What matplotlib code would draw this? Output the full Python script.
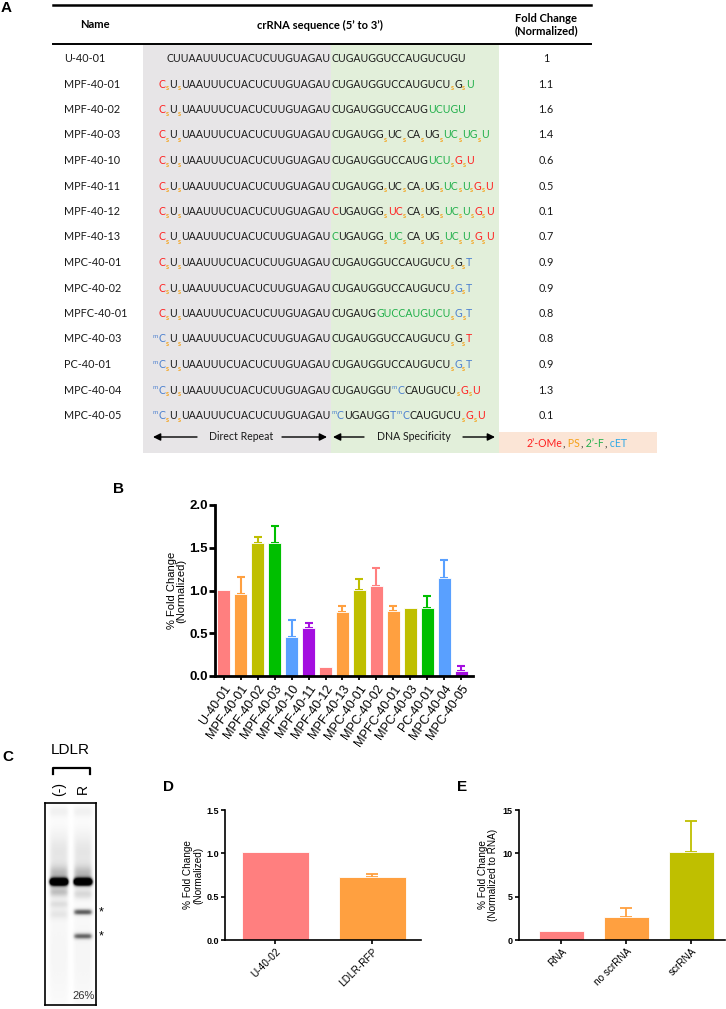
import matplotlib
matplotlib.use("Agg")
import matplotlib.pyplot as plt
import numpy as np
from matplotlib.patches import Rectangle

W, H = 726, 1009

# ---------------- panel A: modified crRNA table ----------------
names = ['U-40-01', 'MPF-40-01', 'MPF-40-02', 'MPF-40-03', 'MPF-40-10',
         'MPF-40-11', 'MPF-40-12', 'MPF-40-13', 'MPC-40-01', 'MPC-40-02',
         'MPFC-40-01', 'MPC-40-03', 'PC-40-01', 'MPC-40-04', 'MPC-40-05']
# markup: [r:..] colour run, _ = PS linkage (orange subscript s), ^ = 5-methyl (blue superscript m)
# | marks the direct-repeat / spacer junction
seqs = [
    'CUUAAUUUCUACUCUUGUAGAU|CUGAUGGUCCAUGUCUGU',
    '[r:C]_U_UAAUUUCUACUCUUGUAGAU|CUGAUGGUCCAUGUCU_G_[g:U]',
    '[r:C]_U_UAAUUUCUACUCUUGUAGAU|CUGAUGGUCCAUG[g:UCUGU]',
    '[r:C]_U_UAAUUUCUACUCUUGUAGAU|CUGAUGG_UC_CA_UG_[g:UC]_[g:UG]_[g:U]',
    '[r:C]_U_UAAUUUCUACUCUUGUAGAU|CUGAUGGUCCAUG[g:UCU]_[r:G]_[r:U]',
    '[r:C]_U_UAAUUUCUACUCUUGUAGAU|CUGAUGG_UC_CA_UG_[g:UC]_[g:U]_[r:G]_[r:U]',
    '[r:C]_U_UAAUUUCUACUCUUGUAGAU|[r:C]UGAUGG_[r:UC]_CA_UG_[g:UC]_[g:U]_[r:G]_[r:U]',
    '[r:C]_U_UAAUUUCUACUCUUGUAGAU|[g:C]UGAUGG_[g:UC]_CA_UG_[g:UC]_[g:U]_[r:G]_[r:U]',
    '[r:C]_U_UAAUUUCUACUCUUGUAGAU|CUGAUGGUCCAUGUCU_G_[b:T]',
    '[r:C]_U_UAAUUUCUACUCUUGUAGAU|CUGAUGGUCCAUGUCU_[b:G]_[b:T]',
    '[r:C]_U_UAAUUUCUACUCUUGUAGAU|CUGAUG[g:GUCCAUGUCU]_[b:G]_[b:T]',
    '^[b:C]_U_UAAUUUCUACUCUUGUAGAU|CUGAUGGUCCAUGUCU_G_[r:T]',
    '^[b:C]_U_UAAUUUCUACUCUUGUAGAU|CUGAUGGUCCAUGUCU_[b:G]_[b:T]',
    '^[b:C]_U_UAAUUUCUACUCUUGUAGAU|CUGAUGGU^[b:C]CAUGUCU_[r:G]_[r:U]',
    '^[b:C]_U_UAAUUUCUACUCUUGUAGAU|^[b:C]UGAUGG[b:T]^[b:C]CAUGUCU_[r:G]_[r:U]',
]
fold_change = ['1', '1.1', '1.6', '1.4', '0.6', '0.5', '0.1', '0.7',
               '0.9', '0.9', '0.8', '0.8', '0.9', '1.3', '0.1']
mod_legend = [('2’-OMe', 'r'), (',', 'k'), (' PS', 'o'), (',', 'k'),
              (' 2’-F', 'g'), (',', 'k'), (' cET', 'c')]

# ---------------- panel B ----------------
b_labels = names
b_vals = [1.01, 0.96, 1.56, 1.56, 0.46, 0.56, 0.10, 0.75,
          1.01, 1.05, 0.76, 0.80, 0.80, 1.15, 0.06]
b_errs = [0.0, 0.20, 0.06, 0.20, 0.20, 0.06, 0.0, 0.07,
          0.13, 0.21, 0.06, 0.0, 0.13, 0.21, 0.06]

PINK, ORANGE, OLIVE, GREEN, BLUE, PURPLE = ('#ff7f7f', '#ffa040', '#bfbf00',
                                            '#00bf00', '#59a0ff', '#a40fe0')
b_colors = [PINK, ORANGE, OLIVE, GREEN, BLUE, PURPLE, PINK, ORANGE,
            OLIVE, PINK, ORANGE, OLIVE, GREEN, BLUE, PURPLE]

# ---------------- panel C: gel ----------------
gel_lanes = ['(-)', 'R']
lane_x = [0.27, 0.75]
# band: lane, position (fraction from top), intensity, sigma
band_lane = [0, 0, 0, 0, 0, 0, 0, 0, 1, 1, 1, 1, 1, 1, 1, 1]
band_pos = [0.04, 0.24, 0.35, 0.39, 0.44, 0.50, 0.55, 0.75,
            0.04, 0.24, 0.35, 0.39, 0.45, 0.54, 0.66, 0.75]
band_int = [0.10, 0.16, 0.28, 1.60, 0.30, 0.16, 0.12, 0.07,
            0.10, 0.16, 0.28, 1.60, 0.20, 0.60, 0.55, 0.07]
band_sig = [0.02, 0.08, 0.03, 0.013, 0.02, 0.015, 0.02, 0.2,
            0.02, 0.08, 0.03, 0.013, 0.02, 0.011, 0.011, 0.2]

# ---------------- panel D ----------------
d_labels = ['U-40-02', 'LDLR-RFP']
d_vals = [1.01, 0.73]
d_errs = [0.0, 0.03]
d_colors = [PINK, ORANGE]

# ---------------- panel E ----------------
e_labels = ['RNA', 'no scrRNA', 'scrRNA']
e_vals = [1.0, 2.7, 10.2]
e_errs = [0.0, 1.0, 3.5]
e_colors = [PINK, ORANGE, OLIVE]

TXT = {'k': '#1a1a1a', 'r': '#ff1f1f', 'o': '#f5a21a', 'g': '#22b04b',
       'b': '#4a7fcf', 'c': '#2fa8e6'}
SEQ_FONT = 'Lato'
GP_FONT = 'Liberation Sans'

fig = plt.figure(figsize=(W / 100, H / 100), dpi=100)
renderer = fig.canvas.get_renderer()

bg = fig.add_axes([0, 0, 1, 1])
bg.set_xlim(0, W)
bg.set_ylim(H, 0)
bg.axis('off')
bg.set_zorder(-1)


def parse(seq):
    parts = []
    i = 0
    while i < len(seq):
        c = seq[i]
        if c == '_':
            parts.append(('s', 'o', 'sub'))
            i += 1
        elif c == '^':
            parts.append(('m', 'b', 'sup'))
            i += 1
        elif c == '[':
            j = seq.index(']', i)
            col, txt = seq[i + 1:j].split(':')
            parts.append((txt, col, 'n'))
            i = j + 1
        else:
            j = i
            while j < len(seq) and seq[j] not in '_^[':
                j += 1
            parts.append((seq[i:j], 'k', 'n'))
            i = j
    return parts


def rich(x, y, parts, size, draw=True):
    for txt, col, kind in parts:
        if kind == 'n':
            kw = dict(fontsize=size)
            yy = y
        elif kind == 'sub':
            kw = dict(fontsize=size * 0.66, fontweight='bold')
            yy = y + 3
        else:
            kw = dict(fontsize=size * 0.6)
            yy = y - 4.5
        t = bg.text(x, yy, txt, color=TXT[col], family=SEQ_FONT, va='baseline',
                    ha='left', **kw)
        w = t.get_window_extent(renderer).width
        if not draw:
            t.remove()
        x += w + 0.4
    return x


# fit sequence font so the repeat body spans the same width as the reference
probe = bg.text(0, 0, 'UAAUUUCUACUCUUGUAGAU', fontsize=8, family=SEQ_FONT)
fs = 8 * 148 / probe.get_window_extent(renderer).width
probe.remove()

# table shading
bg.add_patch(Rectangle((143, 44), 188, 409, color='#e7e5e7', lw=0))
bg.add_patch(Rectangle((331, 44), 168, 409, color='#e2efda', lw=0))
bg.add_patch(Rectangle((499, 432), 158, 21, color='#fbe5d6', lw=0))
bg.plot([53, 591], [4.5, 4.5], color='k', lw=1.8)
bg.plot([53, 591], [44, 44], color='k', lw=1.4)

bg.text(95, 25, 'Name', fontsize=fs * 1.05, fontweight='bold', family=SEQ_FONT,
        ha='center', va='center')
bg.text(320, 25, 'crRNA sequence (5’ to 3’)', fontsize=fs * 1.05,
        fontweight='bold', family=SEQ_FONT, ha='center', va='center')
bg.text(546, 25, 'Fold Change\n(Normalized)', fontsize=fs * 1.05,
        fontweight='bold', family=SEQ_FONT, ha='center', va='center',
        linespacing=1.15)

for i, (nm, sq, fc) in enumerate(zip(names, seqs, fold_change)):
    yb = 58 + 25.5 * i + 4
    bg.text(64, yb, nm, fontsize=fs * 1.03, family=SEQ_FONT, color=TXT['k'],
            va='baseline')
    left, right = sq.split('|')
    lp = parse(left)
    wl = rich(0, yb, lp, fs, draw=False)
    rich(331 - wl, yb, lp, fs)
    rich(331, yb, parse(right), fs)
    bg.text(546, yb, fc, fontsize=fs * 1.03, family=SEQ_FONT, color=TXT['k'],
            va='baseline', ha='center')

# repeat / spacer arrows
ya = 437
arr = dict(arrowstyle='-|>', color='k', lw=1.0, mutation_scale=11, shrinkA=0, shrinkB=0)
bg.annotate('', xy=(153, ya), xytext=(197, ya), arrowprops=arr)
bg.annotate('', xy=(327, ya), xytext=(282, ya), arrowprops=arr)
bg.text(241, ya, 'Direct Repeat', fontsize=fs, family=SEQ_FONT, ha='center',
        va='center', color=TXT['k'])
bg.annotate('', xy=(333, ya), xytext=(364, ya), arrowprops=arr)
bg.annotate('', xy=(495, ya), xytext=(463, ya), arrowprops=arr)
bg.text(414, ya, 'DNA Specificity', fontsize=fs, family=SEQ_FONT, ha='center',
        va='center', color=TXT['k'])
leg = [(t, c, 'n') for t, c in mod_legend]
lw_ = rich(0, 447, leg, fs, draw=False)
rich(577 - lw_ / 2, 447, leg, fs)

# panel letters
for lab, x, y in [('A', 6, 8), ('B', 119, 489), ('C', 8, 757), ('D', 168, 787),
                  ('E', 462, 787)]:
    bg.text(x, y, lab, fontsize=11, fontweight='bold', family=GP_FONT,
            ha='center', va='center')


def axpx(l, t, r, b):
    return fig.add_axes([l / W, 1 - b / H, (r - l) / W, (b - t) / H])


def prism_bars(ax, vals, errs, colors, width, lw, cap):
    x = np.arange(len(vals))
    ax.bar(x, vals, width=width, color=colors, edgecolor='white', linewidth=0.6,
           zorder=2)
    for xi, v, e, c in zip(x, vals, errs, colors):
        if e > 0:
            ax.errorbar(xi, v, yerr=[[0], [e]], color=c, capsize=cap,
                        elinewidth=lw, capthick=lw, zorder=1)
    ax.set_xticks(x)
    ax.spines[['top', 'right']].set_visible(False)
    return x


# ---------------- B ----------------
axb = axpx(215, 505, 473, 676)
prism_bars(axb, b_vals, b_errs, b_colors, 0.78, 1.5, 3)
axb.set_xlim(-0.52, 14.7)
axb.set_ylim(0, 2.0)
axb.set_yticks([0, 0.5, 1.0, 1.5, 2.0])
axb.set_yticklabels(['0.0', '0.5', '1.0', '1.5', '2.0'], fontsize=9.5,
                    fontweight='bold', family=GP_FONT)
axb.set_xticklabels(b_labels, fontsize=9, family=GP_FONT, rotation=55,
                    ha='right', rotation_mode='anchor')
for s in ['left', 'bottom']:
    axb.spines[s].set_linewidth(2)
axb.tick_params(axis='y', width=2, length=4, pad=1)
axb.tick_params(axis='x', width=1.3, length=3, pad=2)
axb.set_ylabel('% Fold Change\n(Normalized)', fontsize=8, family=GP_FONT,
               linespacing=1.0)
axb.yaxis.set_label_coords(-0.11, 0.5)

# ---------------- C: gel ----------------
gh, gw = 220, 60
yy = np.linspace(0, 1, gh)[:, None]
xx = np.linspace(0, 1, gw)[None, :]
img = np.zeros((gh, gw))
for ln, p, a, s in zip(band_lane, band_pos, band_int, band_sig):
    prof = np.exp(-((xx - lane_x[ln]) / 0.19) ** 6)
    img += a * np.exp(-0.5 * ((yy - p) / s) ** 2) * prof
axc = axpx(45, 803, 96, 1005)
axc.imshow(img, cmap='Greys', vmin=0, vmax=0.9, aspect='auto',
           interpolation='bilinear', extent=(0, 1, 1, 0))
axc.set_xticks([])
axc.set_yticks([])
for s in axc.spines.values():
    s.set_linewidth(1.2)
axc.text(lane_x[1], 0.955, '26%', fontsize=8, family=GP_FONT, ha='center',
         va='center', color='#333333')
for bp in [band_pos[13], band_pos[14]]:
    axc.text(1.05, bp, '*', fontsize=9, family=GP_FONT, ha='left', va='center',
             clip_on=False)
bg.text(70, 750, 'LDLR', fontsize=11, family=GP_FONT, ha='center', va='center')
bg.plot([53, 53, 90, 90], [774, 768, 768, 774], color='k', lw=1.6)
for lab, xl in zip(gel_lanes, [45 + 51 * lane_x[0], 45 + 51 * lane_x[1]]):
    bg.text(xl, 789, lab, fontsize=10, family=GP_FONT, rotation=90,
            ha='center', va='center')

# ---------------- D ----------------
axd = axpx(225, 810, 421, 940)
prism_bars(axd, d_vals, d_errs, d_colors, 0.69, 1.3, 4)
axd.set_xlim(-0.52, 1.5)
axd.set_ylim(0, 1.5)
axd.set_yticks([0, 0.5, 1.0, 1.5])
axd.set_yticklabels(['0.0', '0.5', '1.0', '1.5'], fontsize=6.5,
                    fontweight='bold', family=GP_FONT)
axd.set_xticklabels(d_labels, fontsize=7.2, family=GP_FONT, rotation=45,
                    ha='right', rotation_mode='anchor')
axd.set_ylabel('% Fold Change\n(Normalized)', fontsize=7.2, family=GP_FONT,
               linespacing=1.0)
axd.yaxis.set_label_coords(-0.11, 0.5)

# ---------------- E ----------------
axe = axpx(519, 810, 725, 940)
prism_bars(axe, e_vals, e_errs, e_colors, 0.69, 1.3, 4)
axe.set_xlim(-0.65, 2.52)
axe.set_ylim(0, 15)
axe.set_yticks([0, 5, 10, 15])
axe.set_yticklabels(['0', '5', '10', '15'], fontsize=6.5, fontweight='bold',
                    family=GP_FONT)
axe.set_xticklabels(e_labels, fontsize=7.2, family=GP_FONT, rotation=45,
                    ha='right', rotation_mode='anchor')
axe.set_ylabel('% Fold Change\n(Normalized to RNA)', fontsize=7.2,
               family=GP_FONT, linespacing=1.0)
axe.yaxis.set_label_coords(-0.1, 0.5)

for ax in (axd, axe):
    for s in ['left', 'bottom']:
        ax.spines[s].set_linewidth(1.2)
    ax.tick_params(width=1.2, length=3, pad=1.5)

fig.savefig('out.png', dpi=100)
